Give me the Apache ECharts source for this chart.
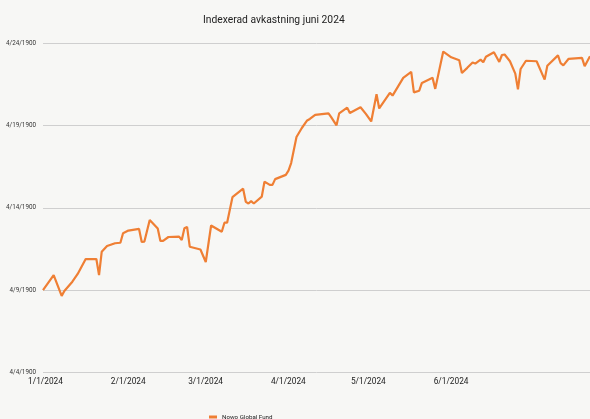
<!DOCTYPE html>
<html>
<head>
<meta charset="utf-8">
<script src="https://cdn.jsdelivr.net/npm/echarts@6/dist/echarts.min.js"></script>
<style>
html,body{margin:0;padding:0;background:#f7f7f5;}
#chart{width:590px;height:419px;}
</style>
</head>
<body>
<div id="chart"></div>
<script>
const seriesName = 'Nowo Global Fund';
const dates = ['2024-01-01','2024-01-05','2024-01-08','2024-01-09','2024-01-12','2024-01-14','2024-01-17','2024-01-21','2024-01-22','2024-01-23',
'2024-01-25','2024-01-28','2024-01-30','2024-01-31','2024-02-02','2024-02-06','2024-02-07','2024-02-08','2024-02-10','2024-02-13',
'2024-02-14','2024-02-15','2024-02-17','2024-02-21','2024-02-22','2024-02-23','2024-02-24','2024-02-25','2024-02-29','2024-03-02',
'2024-03-04','2024-03-08','2024-03-09','2024-03-10','2024-03-12','2024-03-16','2024-03-17','2024-03-18','2024-03-19','2024-03-20',
'2024-03-23','2024-03-24','2024-03-26','2024-03-27','2024-03-28','2024-04-01','2024-04-02','2024-04-03','2024-04-05','2024-04-07',
'2024-04-09','2024-04-10','2024-04-12','2024-04-17','2024-04-18','2024-04-20','2024-04-21','2024-04-24','2024-04-25','2024-04-29',
'2024-05-01','2024-05-03','2024-05-05','2024-05-06','2024-05-10','2024-05-11','2024-05-15','2024-05-18','2024-05-19','2024-05-21',
'2024-05-22','2024-05-26','2024-05-27','2024-05-30','2024-06-02','2024-06-05','2024-06-06','2024-06-08','2024-06-10','2024-06-11',
'2024-06-13','2024-06-14','2024-06-15','2024-06-18','2024-06-20','2024-06-21','2024-06-22','2024-06-24','2024-06-26','2024-06-27',
'2024-06-28','2024-06-30','2024-07-04','2024-07-07','2024-07-08','2024-07-12','2024-07-13','2024-07-14','2024-07-16','2024-07-21',
'2024-07-22','2024-07-24'];
const values = [100.00,100.91,99.65,99.94,100.51,100.98,101.89,101.89,100.91,102.33,
102.68,102.85,102.88,103.46,103.62,103.72,102.93,102.95,104.27,103.75,
102.99,102.99,103.23,103.25,103.05,103.76,103.84,102.64,102.47,101.71,
103.93,103.55,104.10,104.10,105.65,106.17,105.37,105.27,105.41,105.27,
105.69,106.60,106.40,106.40,106.75,107.01,107.27,107.73,109.31,109.86,
110.32,110.41,110.66,110.75,110.52,110.02,110.75,111.10,110.77,111.12,
110.72,110.26,111.91,111.05,112.00,111.83,112.91,113.27,112.03,112.13,
112.60,112.91,112.24,114.51,114.16,113.98,113.21,113.52,113.84,113.78,
114.02,113.86,114.19,114.47,113.88,114.30,114.33,113.92,113.17,112.21,
113.45,113.95,113.92,112.80,113.65,114.28,113.80,113.67,114.07,114.13,
113.62,114.23];
const xTickDates = ['2024-01-01','2024-02-01','2024-03-01','2024-04-01','2024-05-01','2024-06-01'];
const xTickLabels = ['1/1/2024','2/1/2024','3/1/2024','4/1/2024','5/1/2024','6/1/2024'];
const yTickValues = [95,100,105,110,115];
const yTickLabels = ['4/4/1900','4/9/1900','4/14/1900','4/19/1900','4/24/1900'];

function ts(s){const p=s.split('-').map(Number);return Date.UTC(p[0],p[1]-1,p[2]);}
const xTickTs = xTickDates.map(ts);
const chart = echarts.init(document.getElementById('chart'));
chart.setOption({
  backgroundColor:'#f7f7f5',
  animation:false,
  title:{text:'Indexerad avkastning juni 2024',left:198,top:10,textStyle:{fontFamily:'Roboto',fontSize:10.3,fontWeight:'normal',color:'#222'}},
  grid:{left:43,right:0,top:43.5,bottom:46.7,containLabel:false},
  legend:{data:[seriesName],left:204,top:409,icon:'rect',itemWidth:8,itemHeight:3,itemGap:4,
    textStyle:{fontFamily:'Roboto',fontSize:6.2,color:'#222'}},
  xAxis:{type:'value',min:ts(dates[0]),max:ts(dates[dates.length-1]),
    axisLine:{show:false},axisTick:{show:false},splitLine:{show:false},
    axisLabel:{customValues:xTickTs,margin:6,padding:[0,0,0,5],hideOverlap:false,
      formatter:function(v){const i=xTickTs.indexOf(v);return i>=0?xTickLabels[i]:'';},
      fontFamily:'Roboto',fontSize:8.3,color:'#222'}},
  yAxis:{type:'value',min:95,max:115,interval:5,
    axisLine:{show:false},axisTick:{show:false},
    splitLine:{lineStyle:{color:'#cfcfcf',width:1}},
    axisLabel:{margin:7,fontFamily:'Roboto',fontSize:6.3,color:'#333',
      formatter:function(v){const i=yTickValues.indexOf(v);return i>=0?yTickLabels[i]:'';}}},
  series:[{name:seriesName,type:'line',showSymbol:false,
    data:dates.map((d,i)=>[ts(d),values[i]]),
    lineStyle:{color:'#ef7f34',width:2.2},itemStyle:{color:'#ef7f34'}}]
});
</script>
</body>
</html>
